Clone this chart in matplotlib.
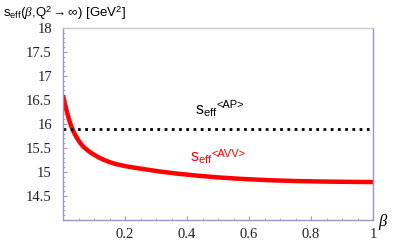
import matplotlib
matplotlib.use("Agg")
import matplotlib.pyplot as plt
from matplotlib.ticker import MultipleLocator, FixedLocator

plt.rcParams["mathtext.fontset"] = "custom"
plt.rcParams["mathtext.rm"] = "Liberation Sans"
plt.rcParams["mathtext.it"] = "Liberation Serif:italic"
plt.rcParams["mathtext.sf"] = "Liberation Sans"

beta = [0.0, 0.004, 0.008, 0.012, 0.017, 0.022, 0.028, 0.034, 0.044, 0.055, 0.065, 0.076, 0.087,
        0.098, 0.115, 0.13, 0.15, 0.17, 0.205, 0.25, 0.313, 0.37, 0.44, 0.506, 0.58,
        0.668, 0.75, 0.829, 0.9, 1.0]
s_avv = [16.60, 16.48, 16.37, 16.27, 16.15, 16.04, 15.93, 15.84, 15.72, 15.61, 15.53, 15.47, 15.415,
         15.37, 15.305, 15.258, 15.207, 15.166, 15.118, 15.07, 15.01, 14.965, 14.92, 14.885, 14.855,
         14.828, 14.812, 14.802, 14.796, 14.79]
s_ap = 15.9

xticks = [0.2, 0.4, 0.6, 0.8, 1.0]
xticklabels = ["0.2", "0.4", "0.6", "0.8", "1"]
yticks = [14.5, 15, 15.5, 16, 16.5, 17, 17.5, 18]
yticklabels = ["14.5", "15", "15.5", "16", "16.5", "17", "17.5", "18"]

fig = plt.figure(figsize=(3.93, 2.43), dpi=100)
ax = fig.add_axes([63/393, 1 - 220/243, 310/393, 192/243])

ax.plot(beta, s_avv, color="#ff0000", lw=3.2, solid_capstyle="butt", solid_joinstyle="round")
ax.plot([0, 1], [s_ap, s_ap], color="black", lw=2.0, ls=(0, (1, 1.6)))

ax.set_xlim(0, 1)
ax.set_ylim(14, 18)
ax.xaxis.set_major_locator(FixedLocator(xticks))
ax.set_xticklabels(xticklabels)
ax.yaxis.set_major_locator(FixedLocator(yticks))
ax.set_yticklabels(yticklabels)
ax.xaxis.set_minor_locator(MultipleLocator(0.05))
ax.yaxis.set_minor_locator(MultipleLocator(0.1))

spc = "#9a96c4"
for name, sp in ax.spines.items():
    sp.set_color(spc)
    sp.set_linewidth(1.0)
ax.spines["top"].set_color("#c8c6e0")

ax.tick_params(which="both", direction="in", color=spc, top=False, right=False)
ax.tick_params(which="major", length=3, width=0.8)
ax.tick_params(axis="y", which="major", pad=8)
ax.tick_params(axis="x", which="major", pad=6)
ax.tick_params(which="minor", length=1.5, width=0.6)
for lab in ax.get_xticklabels() + ax.get_yticklabels():
    lab.set_fontfamily("Liberation Serif")
    lab.set_fontsize(10.5)
    lab.set_color("#222222")

fig.text(3/393, 1 - 13/243, r"s$_{\rm eff}$($\mathit{\beta}$,Q$^2$$\rightarrow\infty$) [GeV$^2$]",
         fontsize=9.5, family="Liberation Sans", va="center", ha="left")
fig.text(378/393, 1 - 222/243, r"$\mathit{\beta}$", fontsize=12, va="center", ha="left")

ax.text(0.425, 16.19, r"s$_{\rm eff}$", fontsize=11.5, family="Liberation Sans", color="black")
ax.text(0.494, 16.33, "<AP>", fontsize=8, family="Liberation Sans", color="black")
ax.text(0.410, 15.21, r"s$_{\rm eff}$", fontsize=11.5, family="Liberation Sans", color="#ff0000")
ax.text(0.480, 15.31, "<AVV>", fontsize=8, family="Liberation Sans", color="#ff0000")

fig.savefig("out.png", dpi=100)
